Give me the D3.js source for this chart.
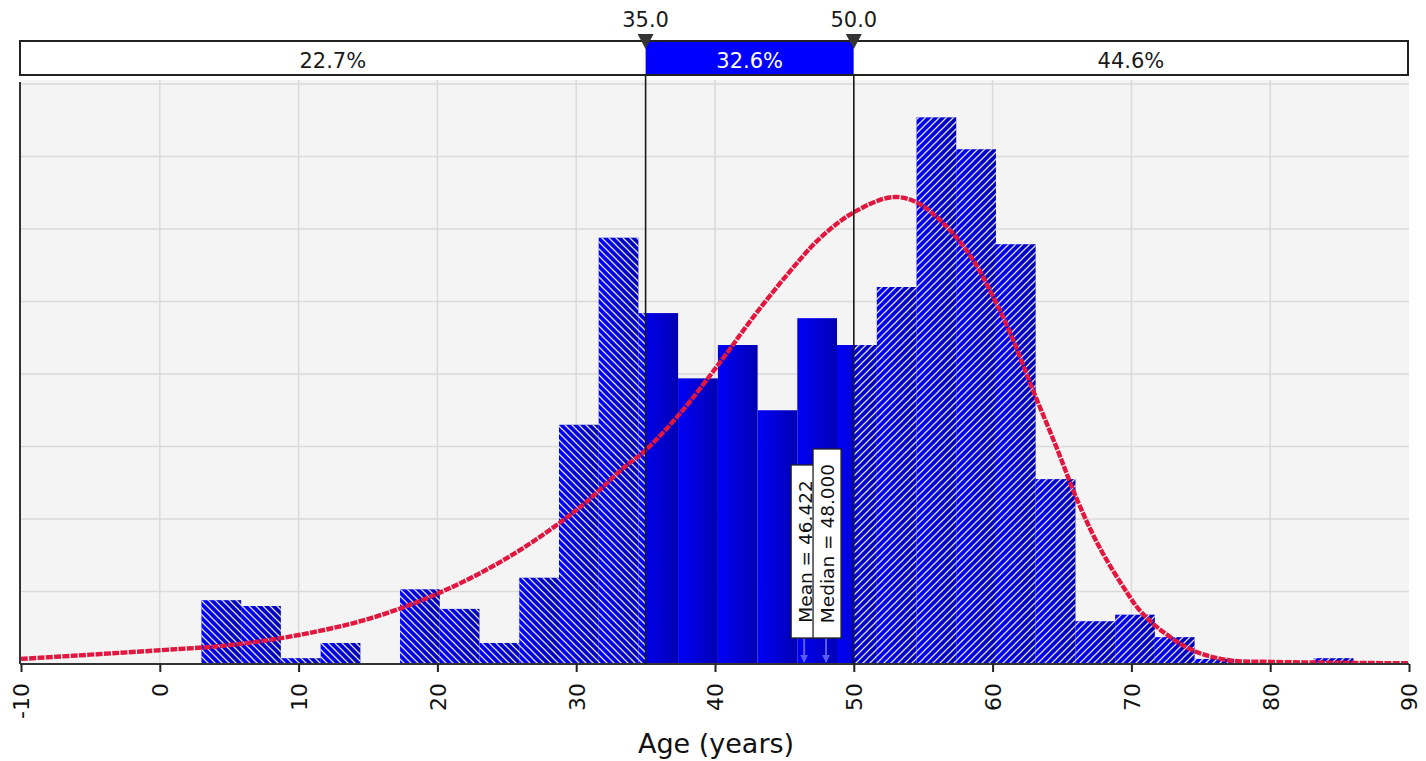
<!DOCTYPE html>
<html>
<head>
<meta charset="utf-8">
<script src="https://cdn.jsdelivr.net/npm/d3@7"></script>
<style>
  html, body { margin: 0; padding: 0; background: #ffffff; }
  svg { display: block; font-family: "DejaVu Sans", Verdana, sans-serif; }
</style>
</head>
<body>
<svg id="chart" width="1426" height="761"></svg>
<script>
// ---------------- DATA ----------------
const binEdges = [3.00, 5.86, 8.72, 11.59, 14.45, 17.31, 20.17, 23.03, 25.90, 28.76, 31.62,
  34.48, 37.34, 40.21, 43.07, 45.93, 48.79, 51.66, 54.52, 57.38, 60.24, 63.10, 65.97,
  68.83, 71.69, 74.55, 77.41, 80.28, 83.14, 86.00];
const binValues = [0.88, 0.80, 0.08, 0.29, 0.01, 1.03, 0.76, 0.29, 1.19, 3.30, 5.88,
  4.84, 3.94, 4.40, 3.50, 4.77, 4.40, 5.20, 7.54, 7.10, 5.79, 2.55, 0.59, 0.68, 0.37,
  0.07, 0, 0, 0.08];
const curveX = [-10, 0, 5, 10, 15, 20, 25, 30, 33.5, 35, 37.5, 40.4, 42.7, 45.2, 47.6, 50,
  52.8, 54.6, 56.9, 58.6, 60, 61.3, 62.9, 64.6, 66.1, 67.7, 69.7, 70.6, 72.1, 74.4, 76.9, 80, 90];
const curveY = [0.07, 0.19, 0.26, 0.40, 0.62, 0.97, 1.46, 2.12, 2.72, 2.95, 3.46, 4.17, 4.77,
  5.37, 5.88, 6.23, 6.44, 6.36, 5.99, 5.57, 5.08, 4.55, 3.78, 2.99, 2.26, 1.61, 0.98, 0.74,
  0.47, 0.19, 0.055, 0.03, 0.01];
const xTicks = [-10, 0, 10, 20, 30, 40, 50, 60, 70, 80, 90];
const yGrid = [1, 2, 3, 4, 5, 6, 7, 8];
const delimiters = [35.0, 50.0];
const regionLabels = ["22.7%", "32.6%", "44.6%"];
const statNames = ["Mean", "Median"];
const statValues = [46.422, 48.000];
const xTitle = "Age (years)";

// ---------------- LAYOUT ----------------
const svg = d3.select("#chart");
const plotL = 20, plotR = 1409, plotT = 80, plotB = 664;
const x = d3.scaleLinear().domain([-10, 90]).range([21, 1409]);
const y = d3.scaleLinear().domain([0, 8]).range([plotB, 84]);

const defs = svg.append("defs");
// bar gradient
const grad = defs.append("linearGradient").attr("id", "barGrad")
  .attr("x1", "0").attr("y1", "0").attr("x2", "1").attr("y2", "0");
grad.append("stop").attr("offset", "0%").attr("stop-color", "#0000f6");
grad.append("stop").attr("offset", "100%").attr("stop-color", "#0000b4");
// hatch patterns
function hatch(id, dir) {
  const s = 7;
  const p = defs.append("pattern").attr("id", id).attr("patternUnits", "userSpaceOnUse")
    .attr("width", s).attr("height", s);
  const d = dir === "back"
    ? `M-1,-1 L${s + 1},${s + 1} M-1,${s - 1} L1,${s + 1} M${s - 1},-1 L${s + 1},1`
    : `M-1,${s + 1} L${s + 1},-1 M-1,1 L1,-1 M${s - 1},${s + 1} L${s + 1},${s - 1}`;
  p.append("path").attr("d", d)
    .attr("stroke", "#ffffff").attr("stroke-width", 1.25).attr("stroke-opacity", 0.88).attr("fill", "none");
}
hatch("hatchBack", "back");
hatch("hatchFwd", "fwd");

// clip paths for three regions
const regions = [
  { id: "clipL", x0: plotL, x1: x(delimiters[0]), pat: "hatchBack" },
  { id: "clipM", x0: x(delimiters[0]), x1: x(delimiters[1]), pat: null },
  { id: "clipR", x0: x(delimiters[1]), x1: plotR, pat: "hatchFwd" }
];
regions.forEach(r => {
  defs.append("clipPath").attr("id", r.id).append("rect")
    .attr("x", r.x0).attr("y", plotT).attr("width", r.x1 - r.x0).attr("height", plotB - plotT + 1);
});
defs.append("clipPath").attr("id", "clipPlot").append("rect")
  .attr("x", plotL).attr("y", plotT).attr("width", plotR - plotL).attr("height", plotB - plotT);

// plot background
svg.append("rect").attr("x", plotL).attr("y", plotT).attr("width", plotR - plotL)
  .attr("height", plotB - plotT).attr("fill", "#f4f4f4");

// gridlines
svg.append("g").selectAll("line").data(yGrid).join("line")
  .attr("x1", plotL).attr("x2", plotR).attr("y1", d => y(d)).attr("y2", d => y(d))
  .attr("stroke", "#dadada").attr("stroke-width", 1.5);
svg.append("g").selectAll("line").data(xTicks.slice(1, -1)).join("line")
  .attr("x1", d => x(d)).attr("x2", d => x(d)).attr("y1", plotT).attr("y2", plotB)
  .attr("stroke", "#dadada").attr("stroke-width", 1.5);

// bars
const bins = binValues.map((v, i) => ({ x0: binEdges[i], x1: binEdges[i + 1], v }));
regions.forEach(r => {
  const g = svg.append("g").attr("clip-path", `url(#${r.id})`);
  g.selectAll("rect.b").data(bins).join("rect").attr("class", "b")
    .attr("x", d => x(d.x0)).attr("width", d => x(d.x1) - x(d.x0))
    .attr("y", d => y(d.v)).attr("height", d => y(0) - y(d.v))
    .attr("fill", "url(#barGrad)");
  if (r.pat) {
    g.selectAll("rect.h").data(bins).join("rect").attr("class", "h")
      .attr("x", d => x(d.x0)).attr("width", d => x(d.x1) - x(d.x0))
      .attr("y", d => y(d.v)).attr("height", d => y(0) - y(d.v))
      .attr("fill", `url(#${r.pat})`);
  }
});

// fitted curve
const line = d3.line().x((d, i) => x(curveX[i])).y(d => y(d)).curve(d3.curveCatmullRom.alpha(0.5));
svg.append("path").datum(curveY).attr("d", line).attr("clip-path", "url(#clipPlot)")
  .attr("fill", "none").attr("stroke", "#e2163e").attr("stroke-width", 4.4)
  .attr("stroke-dasharray", "7,1.3");

// axes
svg.append("line").attr("x1", plotL).attr("x2", plotL).attr("y1", 82).attr("y2", plotB)
  .attr("stroke", "#333").attr("stroke-width", 2);
const xAxis = d3.axisBottom(x).tickValues(xTicks).tickSize(8).tickFormat(d => String(d));
const gx = svg.append("g").attr("transform", `translate(0,${plotB})`).call(xAxis);
gx.select(".domain").attr("stroke", "#333").attr("stroke-width", 2)
  .attr("d", `M${plotL},0H${plotR}`);
gx.selectAll(".tick line").attr("stroke", "#222").attr("stroke-width", 2);
gx.selectAll(".tick text")
  .attr("transform", "rotate(-90)")
  .attr("x", -19).attr("y", 0).attr("dy", "0.36em")
  .attr("text-anchor", "end")
  .attr("font-size", 22).attr("font-family", "DejaVu Sans, sans-serif").attr("fill", "#111");

svg.append("text").attr("x", 716).attr("y", 753).attr("text-anchor", "middle")
  .attr("font-size", 27).attr("fill", "#111").text(xTitle);

// delimiter vertical lines
svg.append("g").selectAll("line").data(delimiters).join("line")
  .attr("x1", d => x(d)).attr("x2", d => x(d)).attr("y1", 75).attr("y2", plotB)
  .attr("stroke", "#1a1a1a").attr("stroke-width", 1.6);

// top probability bar
const barT = 41, barB = 75;
const segEdges = [plotL, x(delimiters[0]), x(delimiters[1]), 1408];
const segs = regionLabels.map((t, i) => ({ t, a: segEdges[i], b: segEdges[i + 1], mid: i === 1 }));
svg.append("g").selectAll("rect").data(segs).join("rect")
  .attr("x", d => d.a).attr("width", d => d.b - d.a).attr("y", barT).attr("height", barB - barT)
  .attr("fill", d => d.mid ? "#0000ff" : "#ffffff");
svg.append("rect").attr("x", plotL).attr("y", barT).attr("width", 1408 - plotL)
  .attr("height", barB - barT).attr("fill", "none").attr("stroke", "#222").attr("stroke-width", 2);
svg.append("g").selectAll("text").data(segs).join("text")
  .attr("x", d => (d.a + d.b) / 2).attr("y", 68).attr("text-anchor", "middle")
  .attr("font-size", 21).attr("fill", d => d.mid ? "#ffffff" : "#1a1a1a").text(d => d.t);

// delimiter markers and labels
svg.append("g").selectAll("path").data(delimiters).join("path")
  .attr("d", d => `M${x(d) - 8},34 L${x(d) + 8},34 L${x(d)},49 Z`)
  .attr("fill", "#333");
svg.append("g").selectAll("text").data(delimiters).join("text")
  .attr("x", d => x(d)).attr("y", 27).attr("text-anchor", "middle")
  .attr("font-size", 21).attr("fill", "#1a1a1a").text(d => d.toFixed(1));

// mean / median markers
const statG = svg.append("g");
const arrowDef = defs.append("marker").attr("id", "arr").attr("viewBox", "0 0 10 10")
  .attr("refX", 9).attr("refY", 5).attr("markerWidth", 4).attr("markerHeight", 4)
  .attr("orient", "auto");
arrowDef.append("path").attr("d", "M0,0 L10,5 L0,10 Z").attr("fill", "#5a5aff");
const boxBottom = 638;
const statTops = [465, 449];
statNames.forEach((n, i) => {
  const cx = x(statValues[i]);
  statG.append("line").attr("x1", cx).attr("x2", cx).attr("y1", boxBottom).attr("y2", 662)
    .attr("stroke", "#5a5aff").attr("stroke-width", 2).attr("marker-end", "url(#arr)");
});
statNames.forEach((n, i) => {
  const cx = x(statValues[i]);
  const top = statTops[i];
  statG.append("rect").attr("x", cx - 13).attr("y", top).attr("width", 28)
    .attr("height", boxBottom - top).attr("fill", "#ffffff").attr("stroke", "#222").attr("stroke-width", 1.3);
  statG.append("text")
    .attr("transform", `translate(${cx + 7.5},${(top + boxBottom) / 2}) rotate(-90)`)
    .attr("text-anchor", "middle").attr("font-size", 18.5).attr("fill", "#111")
    .text(`${n} = ${statValues[i].toFixed(3)}`);
});
</script>
</body>
</html>
